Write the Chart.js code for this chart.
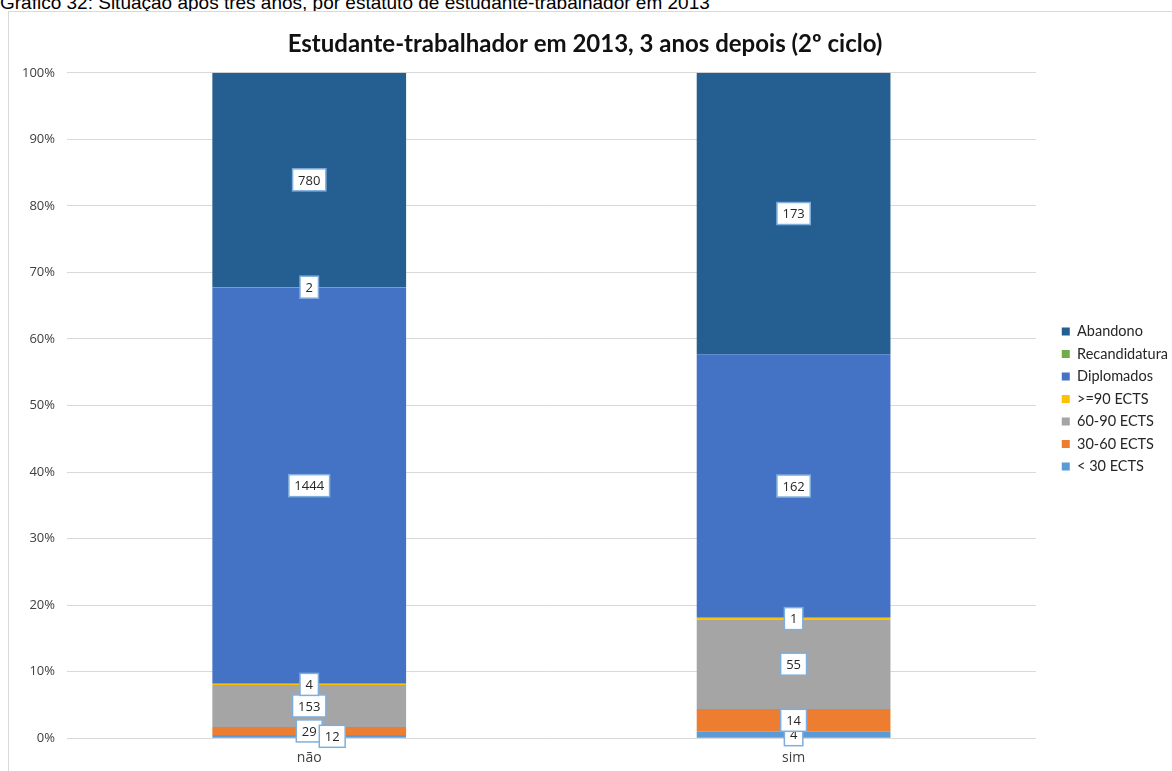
<!DOCTYPE html>
<html>
<head>
<meta charset="utf-8">
<script src="https://cdn.jsdelivr.net/npm/chart.js@4.4.1/dist/chart.umd.min.js"></script>
<style>
  html, body { margin: 0; padding: 0; background: #fff; overflow: hidden; }
  body { width: 1172px; height: 771px; position: relative; }
  #caption {
    position: absolute; left: 0; top: -7px;
    font-family: "Liberation Sans", Arial, sans-serif; font-size: 19px; line-height: 19px;
    color: #000; white-space: nowrap;
  }
  #frame {
    position: absolute; left: 8px; top: 11px; width: 1170px; height: 770px;
    border: 1px solid #d9d9d9; box-sizing: border-box; background: #fff;
  }
  #wrap { position: absolute; left: 8px; top: 11px; width: 1164px; height: 760px; }
</style>
</head>
<body>
<div id="caption">Gráfico 32: Situação após três anos, por estatuto de estudante-trabalhador em 2013</div>
<div id="frame"></div>
<div id="wrap"><canvas id="Chart-canvas"></canvas></div>
<script>
const ctx = document.getElementById('Chart-canvas');

const categories = ['não', 'sim'];
const seriesNames = ['< 30 ECTS', '30-60 ECTS', '60-90 ECTS', '>=90 ECTS', 'Diplomados', 'Recandidatura', 'Abandono'];
const seriesColors = ['#5B9BD5', '#ED7D31', '#A5A5A5', '#FFC000', '#4472C4', '#70AD47', '#255E91'];

const menos30 = [12, 4];
const ects30a60 = [29, 14];
const ects60a90 = [153, 55];
const ects90mais = [4, 1];
const diplomados = [1444, 162];
const recandidatura = [2, 0];
const abandono = [780, 173];

const yTicks = [0, 10, 20, 30, 40, 50, 60, 70, 80, 90, 100];

const counts = [menos30, ects30a60, ects60a90, ects90mais, diplomados, recandidatura, abandono];
const totals = categories.map((c, j) => counts.reduce((s, arr) => s + arr[j], 0));

const datasets = counts.map((arr, i) => ({
  label: seriesNames[i],
  data: arr.map((v, j) => v / totals[j] * 100),
  counts: arr,
  backgroundColor: seriesColors[i],
  borderWidth: 0,
  barPercentage: 0.4,
  categoryPercentage: 1.0
}));

// value boxes like Excel data callouts
const boxLabels = {
  id: 'boxLabels',
  afterDatasetsDraw(chart) {
    const c = chart.ctx;
    c.save();
    c.font = '13px "Open Sans", "DejaVu Sans", sans-serif';
    c.textAlign = 'center';
    c.textBaseline = 'middle';
    const draw = (x, y, txt) => {
      const w = c.measureText(txt).width + 11;
      const h = 22;
      c.fillStyle = '#fff';
      c.fillRect(x - w / 2, y - h / 2, w, h);
      c.strokeStyle = '#7FAEDC';
      c.lineWidth = 1.5;
      c.strokeRect(x - w / 2, y - h / 2, w, h);
      c.fillStyle = '#262626';
      c.fillText(txt, x, y + 1);
    };
    categories.forEach((cat, j) => {
      const items = [];
      chart.data.datasets.forEach((ds, i) => {
        const v = ds.counts[j];
        if (!v) return;
        const el = chart.getDatasetMeta(i).data[j];
        items.push({ x: el.x, y: (el.y + el.base) / 2, txt: String(v), moved: false });
      });
      // a box that sits almost on top of the next one is pushed aside
      for (let k = 0; k < items.length - 1; k++) {
        if (Math.abs(items[k].y - items[k + 1].y) < 8) {
          items[k].x += 23;
          items[k].moved = true;
        }
      }
      items.filter(it => !it.moved).forEach(it => draw(it.x, it.y, it.txt));
      items.filter(it => it.moved).forEach(it => draw(it.x, it.y, it.txt));
    });
    c.restore();
  }
};

// leave a gap between plot and legend, like the Excel layout
const legendShift = {
  id: 'legendShift',
  afterLayout(chart) {
    const lg = chart.legend;
    lg.left += 18; lg.right += 18;
    lg.top += 9; lg.bottom += 9;
  }
};

new Chart(ctx, {
  type: 'bar',
  data: { labels: categories, datasets: datasets },
  options: {
    responsive: true,
    maintainAspectRatio: false,
    animation: false,
    layout: { padding: { left: 2, right: 12, top: 0, bottom: 2 } },
    plugins: {
      title: {
        display: true,
        text: 'Estudante-trabalhador em 2013, 3 anos depois (2º ciclo)',
        color: '#111',
        font: { family: 'Lato, "Open Sans", sans-serif', size: 24, weight: 'bold' },
        padding: { top: 19, bottom: 14 }
      },
      legend: {
        position: 'right',
        reverse: true,
        labels: {
          boxWidth: 8,
          boxHeight: 8,
          padding: 8,
          color: '#262626',
          font: { family: 'Lato, "Open Sans", sans-serif', size: 14.5 }
        }
      },
      tooltip: { enabled: false }
    },
    scales: {
      x: {
        stacked: true,
        grid: { display: false },
        border: { color: '#d9d9d9' },
        ticks: { color: '#404040', font: { family: '"Open Sans", sans-serif', size: 14 } }
      },
      y: {
        stacked: true,
        min: 0,
        max: 100,
        afterBuildTicks: axis => { axis.ticks = yTicks.map(v => ({ value: v })); },
        grid: { color: '#d9d9d9', drawTicks: false },
        border: { display: false },
        ticks: {
          padding: 12,
          color: '#404040',
          font: { family: '"Open Sans", sans-serif', size: 13 },
          callback: v => v + '%'
        }
      }
    }
  },
  plugins: [boxLabels, legendShift]
});
</script>
</body>
</html>
